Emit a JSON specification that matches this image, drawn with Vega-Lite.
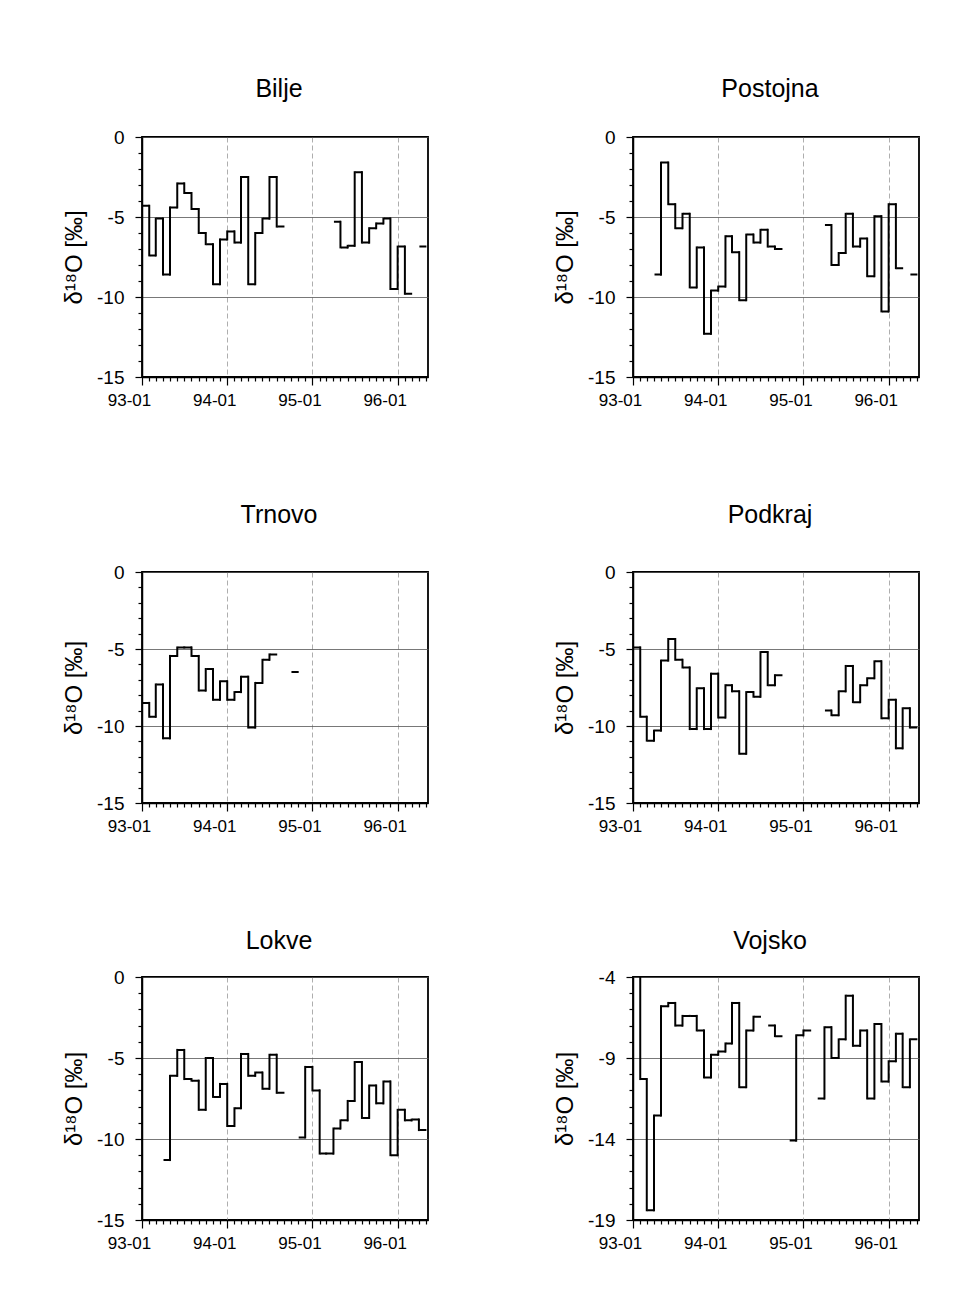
{
"$schema": "https://vega.github.io/schema/vega-lite/v6.json",
"background": "white",
"padding": {"left": 61, "top": 76, "right": 5, "bottom": 5},
"columns": 2,
"align": "each",
"spacing": {"column": 123, "row": 93},
"datasets": {"iso": [
{"station":"Bilje","date":"1993-01","v":-4.3},{"station":"Bilje","date":"1993-02","v":-7.4},{"station":"Bilje","date":"1993-03","v":-5.1},{"station":"Bilje","date":"1993-04","v":-8.6},{"station":"Bilje","date":"1993-05","v":-4.4},{"station":"Bilje","date":"1993-06","v":-2.9},{"station":"Bilje","date":"1993-07","v":-3.5},{"station":"Bilje","date":"1993-08","v":-4.5},{"station":"Bilje","date":"1993-09","v":-6.0},{"station":"Bilje","date":"1993-10","v":-6.7},{"station":"Bilje","date":"1993-11","v":-9.2},{"station":"Bilje","date":"1993-12","v":-6.4},{"station":"Bilje","date":"1994-01","v":-5.9},{"station":"Bilje","date":"1994-02","v":-6.6},{"station":"Bilje","date":"1994-03","v":-2.5},{"station":"Bilje","date":"1994-04","v":-9.2},{"station":"Bilje","date":"1994-05","v":-6.0},{"station":"Bilje","date":"1994-06","v":-5.1},{"station":"Bilje","date":"1994-07","v":-2.5},{"station":"Bilje","date":"1994-08","v":-5.6},{"station":"Bilje","date":"1994-09","v":null},{"station":"Bilje","date":"1995-04","v":-5.3},{"station":"Bilje","date":"1995-05","v":-6.9},{"station":"Bilje","date":"1995-06","v":-6.8},{"station":"Bilje","date":"1995-07","v":-2.2},{"station":"Bilje","date":"1995-08","v":-6.6},{"station":"Bilje","date":"1995-09","v":-5.7},{"station":"Bilje","date":"1995-10","v":-5.4},{"station":"Bilje","date":"1995-11","v":-5.1},{"station":"Bilje","date":"1995-12","v":-9.5},{"station":"Bilje","date":"1996-01","v":-6.85},{"station":"Bilje","date":"1996-02","v":-9.8},{"station":"Bilje","date":"1996-03","v":null},{"station":"Bilje","date":"1996-04","v":-6.85},
{"station":"Postojna","date":"1993-04","v":-8.6},{"station":"Postojna","date":"1993-05","v":-1.6},{"station":"Postojna","date":"1993-06","v":-4.2},{"station":"Postojna","date":"1993-07","v":-5.7},{"station":"Postojna","date":"1993-08","v":-4.8},{"station":"Postojna","date":"1993-09","v":-9.4},{"station":"Postojna","date":"1993-10","v":-6.9},{"station":"Postojna","date":"1993-11","v":-12.3},{"station":"Postojna","date":"1993-12","v":-9.6},{"station":"Postojna","date":"1994-01","v":-9.35},{"station":"Postojna","date":"1994-02","v":-6.2},{"station":"Postojna","date":"1994-03","v":-7.2},{"station":"Postojna","date":"1994-04","v":-10.2},{"station":"Postojna","date":"1994-05","v":-6.1},{"station":"Postojna","date":"1994-06","v":-6.6},{"station":"Postojna","date":"1994-07","v":-5.8},{"station":"Postojna","date":"1994-08","v":-6.85},{"station":"Postojna","date":"1994-09","v":-7.0},{"station":"Postojna","date":"1994-10","v":null},{"station":"Postojna","date":"1995-04","v":-5.5},{"station":"Postojna","date":"1995-05","v":-8.0},{"station":"Postojna","date":"1995-06","v":-7.25},{"station":"Postojna","date":"1995-07","v":-4.8},{"station":"Postojna","date":"1995-08","v":-6.85},{"station":"Postojna","date":"1995-09","v":-6.35},{"station":"Postojna","date":"1995-10","v":-8.7},{"station":"Postojna","date":"1995-11","v":-4.95},{"station":"Postojna","date":"1995-12","v":-10.9},{"station":"Postojna","date":"1996-01","v":-4.2},{"station":"Postojna","date":"1996-02","v":-8.2},{"station":"Postojna","date":"1996-03","v":null},{"station":"Postojna","date":"1996-04","v":-8.6},
{"station":"Trnovo","date":"1993-01","v":-8.5},{"station":"Trnovo","date":"1993-02","v":-9.4},{"station":"Trnovo","date":"1993-03","v":-7.3},{"station":"Trnovo","date":"1993-04","v":-10.8},{"station":"Trnovo","date":"1993-05","v":-5.45},{"station":"Trnovo","date":"1993-06","v":-4.9},{"station":"Trnovo","date":"1993-07","v":-4.9},{"station":"Trnovo","date":"1993-08","v":-5.45},{"station":"Trnovo","date":"1993-09","v":-7.7},{"station":"Trnovo","date":"1993-10","v":-6.3},{"station":"Trnovo","date":"1993-11","v":-8.3},{"station":"Trnovo","date":"1993-12","v":-7.1},{"station":"Trnovo","date":"1994-01","v":-8.3},{"station":"Trnovo","date":"1994-02","v":-7.8},{"station":"Trnovo","date":"1994-03","v":-6.8},{"station":"Trnovo","date":"1994-04","v":-10.1},{"station":"Trnovo","date":"1994-05","v":-7.2},{"station":"Trnovo","date":"1994-06","v":-5.7},{"station":"Trnovo","date":"1994-07","v":-5.35},{"station":"Trnovo","date":"1994-08","v":null},{"station":"Trnovo","date":"1994-10","v":-6.5},
{"station":"Podkraj","date":"1993-01","v":-4.9},{"station":"Podkraj","date":"1993-02","v":-9.4},{"station":"Podkraj","date":"1993-03","v":-10.95},{"station":"Podkraj","date":"1993-04","v":-10.3},{"station":"Podkraj","date":"1993-05","v":-5.75},{"station":"Podkraj","date":"1993-06","v":-4.35},{"station":"Podkraj","date":"1993-07","v":-5.7},{"station":"Podkraj","date":"1993-08","v":-6.2},{"station":"Podkraj","date":"1993-09","v":-10.2},{"station":"Podkraj","date":"1993-10","v":-7.55},{"station":"Podkraj","date":"1993-11","v":-10.2},{"station":"Podkraj","date":"1993-12","v":-6.6},{"station":"Podkraj","date":"1994-01","v":-9.45},{"station":"Podkraj","date":"1994-02","v":-7.35},{"station":"Podkraj","date":"1994-03","v":-7.75},{"station":"Podkraj","date":"1994-04","v":-11.8},{"station":"Podkraj","date":"1994-05","v":-7.8},{"station":"Podkraj","date":"1994-06","v":-8.1},{"station":"Podkraj","date":"1994-07","v":-5.2},{"station":"Podkraj","date":"1994-08","v":-7.35},{"station":"Podkraj","date":"1994-09","v":-6.7},{"station":"Podkraj","date":"1994-10","v":null},{"station":"Podkraj","date":"1995-04","v":-9.0},{"station":"Podkraj","date":"1995-05","v":-9.3},{"station":"Podkraj","date":"1995-06","v":-7.75},{"station":"Podkraj","date":"1995-07","v":-6.1},{"station":"Podkraj","date":"1995-08","v":-8.45},{"station":"Podkraj","date":"1995-09","v":-7.35},{"station":"Podkraj","date":"1995-10","v":-6.9},{"station":"Podkraj","date":"1995-11","v":-5.8},{"station":"Podkraj","date":"1995-12","v":-9.5},{"station":"Podkraj","date":"1996-01","v":-8.3},{"station":"Podkraj","date":"1996-02","v":-11.45},{"station":"Podkraj","date":"1996-03","v":-8.85},{"station":"Podkraj","date":"1996-04","v":-10.1},
{"station":"Lokve","date":"1993-04","v":-11.3},{"station":"Lokve","date":"1993-05","v":-6.1},{"station":"Lokve","date":"1993-06","v":-4.5},{"station":"Lokve","date":"1993-07","v":-6.3},{"station":"Lokve","date":"1993-08","v":-6.4},{"station":"Lokve","date":"1993-09","v":-8.2},{"station":"Lokve","date":"1993-10","v":-5.0},{"station":"Lokve","date":"1993-11","v":-7.4},{"station":"Lokve","date":"1993-12","v":-6.6},{"station":"Lokve","date":"1994-01","v":-9.2},{"station":"Lokve","date":"1994-02","v":-8.1},{"station":"Lokve","date":"1994-03","v":-4.75},{"station":"Lokve","date":"1994-04","v":-6.1},{"station":"Lokve","date":"1994-05","v":-5.9},{"station":"Lokve","date":"1994-06","v":-6.9},{"station":"Lokve","date":"1994-07","v":-4.8},{"station":"Lokve","date":"1994-08","v":-7.15},{"station":"Lokve","date":"1994-09","v":null},{"station":"Lokve","date":"1994-11","v":-9.9},{"station":"Lokve","date":"1994-12","v":-5.55},{"station":"Lokve","date":"1995-01","v":-7.0},{"station":"Lokve","date":"1995-02","v":-10.9},{"station":"Lokve","date":"1995-03","v":-10.9},{"station":"Lokve","date":"1995-04","v":-9.35},{"station":"Lokve","date":"1995-05","v":-8.85},{"station":"Lokve","date":"1995-06","v":-7.65},{"station":"Lokve","date":"1995-07","v":-5.25},{"station":"Lokve","date":"1995-08","v":-8.7},{"station":"Lokve","date":"1995-09","v":-6.7},{"station":"Lokve","date":"1995-10","v":-7.8},{"station":"Lokve","date":"1995-11","v":-6.45},{"station":"Lokve","date":"1995-12","v":-11.0},{"station":"Lokve","date":"1996-01","v":-8.2},{"station":"Lokve","date":"1996-02","v":-8.85},{"station":"Lokve","date":"1996-03","v":-8.8},{"station":"Lokve","date":"1996-04","v":-9.45},
{"station":"Vojsko","date":"1993-01","v":-2.5},{"station":"Vojsko","date":"1993-02","v":-10.3},{"station":"Vojsko","date":"1993-03","v":-18.4},{"station":"Vojsko","date":"1993-04","v":-12.55},{"station":"Vojsko","date":"1993-05","v":-5.8},{"station":"Vojsko","date":"1993-06","v":-5.6},{"station":"Vojsko","date":"1993-07","v":-7.0},{"station":"Vojsko","date":"1993-08","v":-6.4},{"station":"Vojsko","date":"1993-09","v":-6.4},{"station":"Vojsko","date":"1993-10","v":-7.3},{"station":"Vojsko","date":"1993-11","v":-10.2},{"station":"Vojsko","date":"1993-12","v":-8.8},{"station":"Vojsko","date":"1994-01","v":-8.6},{"station":"Vojsko","date":"1994-02","v":-8.1},{"station":"Vojsko","date":"1994-03","v":-5.6},{"station":"Vojsko","date":"1994-04","v":-10.8},{"station":"Vojsko","date":"1994-05","v":-7.3},{"station":"Vojsko","date":"1994-06","v":-6.45},{"station":"Vojsko","date":"1994-07","v":null},{"station":"Vojsko","date":"1994-08","v":-7.0},{"station":"Vojsko","date":"1994-09","v":-7.65},{"station":"Vojsko","date":"1994-10","v":null},{"station":"Vojsko","date":"1994-11","v":-14.1},{"station":"Vojsko","date":"1994-12","v":-7.6},{"station":"Vojsko","date":"1995-01","v":-7.3},{"station":"Vojsko","date":"1995-02","v":null},{"station":"Vojsko","date":"1995-03","v":-11.5},{"station":"Vojsko","date":"1995-04","v":-7.1},{"station":"Vojsko","date":"1995-05","v":-9.0},{"station":"Vojsko","date":"1995-06","v":-7.85},{"station":"Vojsko","date":"1995-07","v":-5.15},{"station":"Vojsko","date":"1995-08","v":-8.25},{"station":"Vojsko","date":"1995-09","v":-7.3},{"station":"Vojsko","date":"1995-10","v":-11.5},{"station":"Vojsko","date":"1995-11","v":-6.9},{"station":"Vojsko","date":"1995-12","v":-10.45},{"station":"Vojsko","date":"1996-01","v":-9.2},{"station":"Vojsko","date":"1996-02","v":-7.5},{"station":"Vojsko","date":"1996-03","v":-10.8},{"station":"Vojsko","date":"1996-04","v":-7.85}
]},
"concat": [
{
"title": {"text": "Bilje", "offset": 26},
"width": 286, "height": 240,
"data": {"name": "iso"},
"transform": [{"filter": "datum.station === 'Bilje'"}, {"window": [{"op": "lag", "field": "v", "as": "prev"}], "sort": [{"field": "date", "order": "ascending"}]}],
"encoding": {"y": {"field": "v", "type": "quantitative", "scale": {"domain": [-15, 0], "nice": false, "zero": false}, "axis": {"title": "δ¹⁸O [‰]", "values": [0,-1,-2,-3,-4,-5,-6,-7,-8,-9,-10,-11,-12,-13,-14,-15], "labelExpr": "datum.value % 5 == 0 ? '' + datum.value : ''", "tickSize": {"condition": {"test": "datum.value % 5 == 0", "value": 7}, "value": 4}, "gridOpacity": {"condition": {"test": "datum.value % 5 == 0", "value": 1}, "value": 0}}}},
"layer": [
{"transform": [{"filter": "datum.v != null"}], "mark": {"type": "rect", "stroke": "black", "strokeWidth": 2, "fillOpacity": 0, "clip": true}, "encoding": {"x": {"field": "date", "timeUnit": "utcyearmonth", "type": "temporal", "scale": {"type": "utc", "domain": [{"year": 1993, "month": 1, "date": 1, "utc": true}, {"year": 1996, "month": 5, "date": 10, "utc": true}]}, "axis": {"title": null, "tickCount": 40, "labelExpr": "utcmonth(datum.value) == 0 ? utcFormat(datum.value, '%y-%m') : ''", "tickSize": {"condition": {"test": "utcmonth(datum.value) == 0", "value": 8}, "value": 4}, "gridOpacity": {"condition": {"test": "utcmonth(datum.value) == 0", "value": 1}, "value": 0}}}, "y2": {"field": "v"}}},
{"transform": [{"filter": "datum.v != null && datum.prev != null"}], "mark": {"type": "rule", "color": "black", "strokeWidth": 2, "strokeCap": "square", "clip": true}, "encoding": {"x": {"field": "date", "type": "temporal", "scale": {"type": "utc", "domain": [{"year": 1993, "month": 1, "date": 1, "utc": true}, {"year": 1996, "month": 5, "date": 10, "utc": true}]}, "axis": {"title": null, "tickCount": 40, "labelExpr": "utcmonth(datum.value) == 0 ? utcFormat(datum.value, '%y-%m') : ''", "tickSize": {"condition": {"test": "utcmonth(datum.value) == 0", "value": 8}, "value": 4}, "gridOpacity": {"condition": {"test": "utcmonth(datum.value) == 0", "value": 1}, "value": 0}}}, "y2": {"field": "prev"}}}
]
},
{
"title": {"text": "Postojna", "offset": 26},
"width": 286, "height": 240,
"data": {"name": "iso"},
"transform": [{"filter": "datum.station === 'Postojna'"}, {"window": [{"op": "lag", "field": "v", "as": "prev"}], "sort": [{"field": "date", "order": "ascending"}]}],
"encoding": {"y": {"field": "v", "type": "quantitative", "scale": {"domain": [-15, 0], "nice": false, "zero": false}, "axis": {"title": "δ¹⁸O [‰]", "values": [0,-1,-2,-3,-4,-5,-6,-7,-8,-9,-10,-11,-12,-13,-14,-15], "labelExpr": "datum.value % 5 == 0 ? '' + datum.value : ''", "tickSize": {"condition": {"test": "datum.value % 5 == 0", "value": 7}, "value": 4}, "gridOpacity": {"condition": {"test": "datum.value % 5 == 0", "value": 1}, "value": 0}}}},
"layer": [
{"transform": [{"filter": "datum.v != null"}], "mark": {"type": "rect", "stroke": "black", "strokeWidth": 2, "fillOpacity": 0, "clip": true}, "encoding": {"x": {"field": "date", "timeUnit": "utcyearmonth", "type": "temporal", "scale": {"type": "utc", "domain": [{"year": 1993, "month": 1, "date": 1, "utc": true}, {"year": 1996, "month": 5, "date": 10, "utc": true}]}, "axis": {"title": null, "tickCount": 40, "labelExpr": "utcmonth(datum.value) == 0 ? utcFormat(datum.value, '%y-%m') : ''", "tickSize": {"condition": {"test": "utcmonth(datum.value) == 0", "value": 8}, "value": 4}, "gridOpacity": {"condition": {"test": "utcmonth(datum.value) == 0", "value": 1}, "value": 0}}}, "y2": {"field": "v"}}},
{"transform": [{"filter": "datum.v != null && datum.prev != null"}], "mark": {"type": "rule", "color": "black", "strokeWidth": 2, "strokeCap": "square", "clip": true}, "encoding": {"x": {"field": "date", "type": "temporal", "scale": {"type": "utc", "domain": [{"year": 1993, "month": 1, "date": 1, "utc": true}, {"year": 1996, "month": 5, "date": 10, "utc": true}]}, "axis": {"title": null, "tickCount": 40, "labelExpr": "utcmonth(datum.value) == 0 ? utcFormat(datum.value, '%y-%m') : ''", "tickSize": {"condition": {"test": "utcmonth(datum.value) == 0", "value": 8}, "value": 4}, "gridOpacity": {"condition": {"test": "utcmonth(datum.value) == 0", "value": 1}, "value": 0}}}, "y2": {"field": "prev"}}}
]
},
{
"title": {"text": "Trnovo", "offset": 35},
"width": 286, "height": 231,
"data": {"name": "iso"},
"transform": [{"filter": "datum.station === 'Trnovo'"}, {"window": [{"op": "lag", "field": "v", "as": "prev"}], "sort": [{"field": "date", "order": "ascending"}]}],
"encoding": {"y": {"field": "v", "type": "quantitative", "scale": {"domain": [-15, 0], "nice": false, "zero": false}, "axis": {"title": "δ¹⁸O [‰]", "values": [0,-1,-2,-3,-4,-5,-6,-7,-8,-9,-10,-11,-12,-13,-14,-15], "labelExpr": "datum.value % 5 == 0 ? '' + datum.value : ''", "tickSize": {"condition": {"test": "datum.value % 5 == 0", "value": 7}, "value": 4}, "gridOpacity": {"condition": {"test": "datum.value % 5 == 0", "value": 1}, "value": 0}}}},
"layer": [
{"transform": [{"filter": "datum.v != null"}], "mark": {"type": "rect", "stroke": "black", "strokeWidth": 2, "fillOpacity": 0, "clip": true}, "encoding": {"x": {"field": "date", "timeUnit": "utcyearmonth", "type": "temporal", "scale": {"type": "utc", "domain": [{"year": 1993, "month": 1, "date": 1, "utc": true}, {"year": 1996, "month": 5, "date": 10, "utc": true}]}, "axis": {"title": null, "tickCount": 40, "labelExpr": "utcmonth(datum.value) == 0 ? utcFormat(datum.value, '%y-%m') : ''", "tickSize": {"condition": {"test": "utcmonth(datum.value) == 0", "value": 8}, "value": 4}, "gridOpacity": {"condition": {"test": "utcmonth(datum.value) == 0", "value": 1}, "value": 0}}}, "y2": {"field": "v"}}},
{"transform": [{"filter": "datum.v != null && datum.prev != null"}], "mark": {"type": "rule", "color": "black", "strokeWidth": 2, "strokeCap": "square", "clip": true}, "encoding": {"x": {"field": "date", "type": "temporal", "scale": {"type": "utc", "domain": [{"year": 1993, "month": 1, "date": 1, "utc": true}, {"year": 1996, "month": 5, "date": 10, "utc": true}]}, "axis": {"title": null, "tickCount": 40, "labelExpr": "utcmonth(datum.value) == 0 ? utcFormat(datum.value, '%y-%m') : ''", "tickSize": {"condition": {"test": "utcmonth(datum.value) == 0", "value": 8}, "value": 4}, "gridOpacity": {"condition": {"test": "utcmonth(datum.value) == 0", "value": 1}, "value": 0}}}, "y2": {"field": "prev"}}}
]
},
{
"title": {"text": "Podkraj", "offset": 35},
"width": 286, "height": 231,
"data": {"name": "iso"},
"transform": [{"filter": "datum.station === 'Podkraj'"}, {"window": [{"op": "lag", "field": "v", "as": "prev"}], "sort": [{"field": "date", "order": "ascending"}]}],
"encoding": {"y": {"field": "v", "type": "quantitative", "scale": {"domain": [-15, 0], "nice": false, "zero": false}, "axis": {"title": "δ¹⁸O [‰]", "values": [0,-1,-2,-3,-4,-5,-6,-7,-8,-9,-10,-11,-12,-13,-14,-15], "labelExpr": "datum.value % 5 == 0 ? '' + datum.value : ''", "tickSize": {"condition": {"test": "datum.value % 5 == 0", "value": 7}, "value": 4}, "gridOpacity": {"condition": {"test": "datum.value % 5 == 0", "value": 1}, "value": 0}}}},
"layer": [
{"transform": [{"filter": "datum.v != null"}], "mark": {"type": "rect", "stroke": "black", "strokeWidth": 2, "fillOpacity": 0, "clip": true}, "encoding": {"x": {"field": "date", "timeUnit": "utcyearmonth", "type": "temporal", "scale": {"type": "utc", "domain": [{"year": 1993, "month": 1, "date": 1, "utc": true}, {"year": 1996, "month": 5, "date": 10, "utc": true}]}, "axis": {"title": null, "tickCount": 40, "labelExpr": "utcmonth(datum.value) == 0 ? utcFormat(datum.value, '%y-%m') : ''", "tickSize": {"condition": {"test": "utcmonth(datum.value) == 0", "value": 8}, "value": 4}, "gridOpacity": {"condition": {"test": "utcmonth(datum.value) == 0", "value": 1}, "value": 0}}}, "y2": {"field": "v"}}},
{"transform": [{"filter": "datum.v != null && datum.prev != null"}], "mark": {"type": "rule", "color": "black", "strokeWidth": 2, "strokeCap": "square", "clip": true}, "encoding": {"x": {"field": "date", "type": "temporal", "scale": {"type": "utc", "domain": [{"year": 1993, "month": 1, "date": 1, "utc": true}, {"year": 1996, "month": 5, "date": 10, "utc": true}]}, "axis": {"title": null, "tickCount": 40, "labelExpr": "utcmonth(datum.value) == 0 ? utcFormat(datum.value, '%y-%m') : ''", "tickSize": {"condition": {"test": "utcmonth(datum.value) == 0", "value": 8}, "value": 4}, "gridOpacity": {"condition": {"test": "utcmonth(datum.value) == 0", "value": 1}, "value": 0}}}, "y2": {"field": "prev"}}}
]
},
{
"title": {"text": "Lokve", "offset": 14},
"width": 286, "height": 243,
"data": {"name": "iso"},
"transform": [{"filter": "datum.station === 'Lokve'"}, {"window": [{"op": "lag", "field": "v", "as": "prev"}], "sort": [{"field": "date", "order": "ascending"}]}],
"encoding": {"y": {"field": "v", "type": "quantitative", "scale": {"domain": [-15, 0], "nice": false, "zero": false}, "axis": {"title": "δ¹⁸O [‰]", "values": [0,-1,-2,-3,-4,-5,-6,-7,-8,-9,-10,-11,-12,-13,-14,-15], "labelExpr": "datum.value % 5 == 0 ? '' + datum.value : ''", "tickSize": {"condition": {"test": "datum.value % 5 == 0", "value": 7}, "value": 4}, "gridOpacity": {"condition": {"test": "datum.value % 5 == 0", "value": 1}, "value": 0}}}},
"layer": [
{"transform": [{"filter": "datum.v != null"}], "mark": {"type": "rect", "stroke": "black", "strokeWidth": 2, "fillOpacity": 0, "clip": true}, "encoding": {"x": {"field": "date", "timeUnit": "utcyearmonth", "type": "temporal", "scale": {"type": "utc", "domain": [{"year": 1993, "month": 1, "date": 1, "utc": true}, {"year": 1996, "month": 5, "date": 10, "utc": true}]}, "axis": {"title": null, "tickCount": 40, "labelExpr": "utcmonth(datum.value) == 0 ? utcFormat(datum.value, '%y-%m') : ''", "tickSize": {"condition": {"test": "utcmonth(datum.value) == 0", "value": 8}, "value": 4}, "gridOpacity": {"condition": {"test": "utcmonth(datum.value) == 0", "value": 1}, "value": 0}}}, "y2": {"field": "v"}}},
{"transform": [{"filter": "datum.v != null && datum.prev != null"}], "mark": {"type": "rule", "color": "black", "strokeWidth": 2, "strokeCap": "square", "clip": true}, "encoding": {"x": {"field": "date", "type": "temporal", "scale": {"type": "utc", "domain": [{"year": 1993, "month": 1, "date": 1, "utc": true}, {"year": 1996, "month": 5, "date": 10, "utc": true}]}, "axis": {"title": null, "tickCount": 40, "labelExpr": "utcmonth(datum.value) == 0 ? utcFormat(datum.value, '%y-%m') : ''", "tickSize": {"condition": {"test": "utcmonth(datum.value) == 0", "value": 8}, "value": 4}, "gridOpacity": {"condition": {"test": "utcmonth(datum.value) == 0", "value": 1}, "value": 0}}}, "y2": {"field": "prev"}}}
]
},
{
"title": {"text": "Vojsko", "offset": 14},
"width": 286, "height": 243,
"data": {"name": "iso"},
"transform": [{"filter": "datum.station === 'Vojsko'"}, {"window": [{"op": "lag", "field": "v", "as": "prev"}], "sort": [{"field": "date", "order": "ascending"}]}],
"encoding": {"y": {"field": "v", "type": "quantitative", "scale": {"domain": [-19, -4], "nice": false, "zero": false}, "axis": {"title": "δ¹⁸O [‰]", "values": [-4,-5,-6,-7,-8,-9,-10,-11,-12,-13,-14,-15,-16,-17,-18,-19], "labelExpr": "(datum.value + 4) % 5 == 0 ? '' + datum.value : ''", "tickSize": {"condition": {"test": "(datum.value + 4) % 5 == 0", "value": 7}, "value": 4}, "gridOpacity": {"condition": {"test": "(datum.value + 4) % 5 == 0", "value": 1}, "value": 0}}}},
"layer": [
{"transform": [{"filter": "datum.v != null"}], "mark": {"type": "rect", "stroke": "black", "strokeWidth": 2, "fillOpacity": 0, "clip": true}, "encoding": {"x": {"field": "date", "timeUnit": "utcyearmonth", "type": "temporal", "scale": {"type": "utc", "domain": [{"year": 1993, "month": 1, "date": 1, "utc": true}, {"year": 1996, "month": 5, "date": 10, "utc": true}]}, "axis": {"title": null, "tickCount": 40, "labelExpr": "utcmonth(datum.value) == 0 ? utcFormat(datum.value, '%y-%m') : ''", "tickSize": {"condition": {"test": "utcmonth(datum.value) == 0", "value": 8}, "value": 4}, "gridOpacity": {"condition": {"test": "utcmonth(datum.value) == 0", "value": 1}, "value": 0}}}, "y2": {"field": "v"}}},
{"transform": [{"filter": "datum.v != null && datum.prev != null"}], "mark": {"type": "rule", "color": "black", "strokeWidth": 2, "strokeCap": "square", "clip": true}, "encoding": {"x": {"field": "date", "type": "temporal", "scale": {"type": "utc", "domain": [{"year": 1993, "month": 1, "date": 1, "utc": true}, {"year": 1996, "month": 5, "date": 10, "utc": true}]}, "axis": {"title": null, "tickCount": 40, "labelExpr": "utcmonth(datum.value) == 0 ? utcFormat(datum.value, '%y-%m') : ''", "tickSize": {"condition": {"test": "utcmonth(datum.value) == 0", "value": 8}, "value": 4}, "gridOpacity": {"condition": {"test": "utcmonth(datum.value) == 0", "value": 1}, "value": 0}}}, "y2": {"field": "prev"}}}
]
}
],
"config": {
"font": "Liberation Sans",
"view": {"stroke": "black", "strokeWidth": 1.8},
"title": {"font": "Liberation Sans", "fontSize": 25, "fontWeight": "normal", "color": "black", "anchor": "middle", "dx": -6},
"axis": {"domainColor": "black", "domainWidth": 1.5, "tickColor": "black", "tickWidth": 1.2, "labelColor": "black", "labelFont": "Liberation Sans", "titleFont": "Liberation Sans", "titleFontWeight": "normal", "titleColor": "black", "labelOverlap": false, "labelBound": false, "labelFlush": false},
"axisY": {"labelFontSize": 19, "titleFontSize": 24, "titlePadding": 10, "labelPadding": 11, "gridColor": "#555555", "gridWidth": 0.8},
"axisX": {"labelFontSize": 17, "labelPadding": 7, "labelOffset": -13, "gridColor": "#999999", "gridDash": [5, 3], "gridWidth": 0.8}
}
}
